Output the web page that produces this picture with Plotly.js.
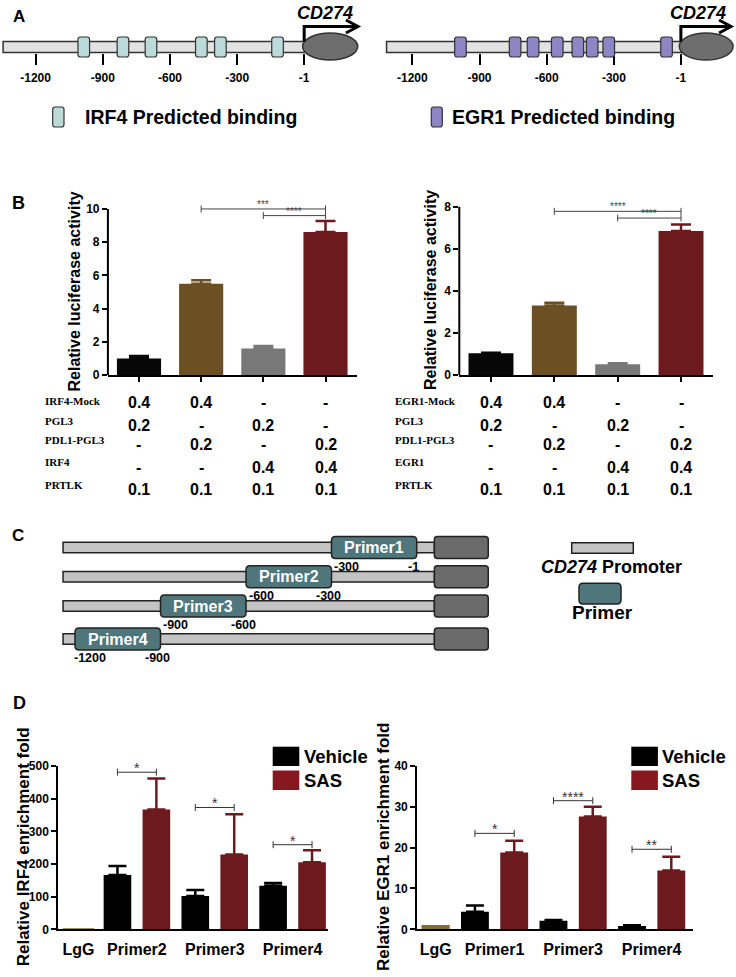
<!DOCTYPE html>
<html><head><meta charset="utf-8">
<script src="https://cdn.plot.ly/plotly-3.0.1.min.js"></script>
<style>html,body{margin:0;padding:0;background:#fff}#chart{width:736px;height:977px}</style>
</head><body><div id="chart"></div>
<script>
// ================= DATA =================
// Panel A: predicted binding sites (position relative to TSS)
const promoterTicks = [-1200, -900, -600, -300, -1];
const promoterTickText = ['-1200', '-900', '-600', '-300', '-1'];
const irf4Sites = [-985, -810, -685, -460, -375, -120];
const egr1Sites = [-985, -741, -661, -553, -461, -397, -323, -65];
const geneName = 'CD274';
const irf4LegendText = 'IRF4 Predicted binding';
const egr1LegendText = 'EGR1 Predicted binding';

// Panel B: luciferase activity
const irf4Luc = [1.0, 5.5, 1.6, 8.62];
const irf4LucErr = [0.15, 0.2, 0.15, 0.66];
const egr1Luc = [1.03, 3.3, 0.51, 6.84];
const egr1LucErr = [0.03, 0.14, 0.05, 0.32];
const irf4LucSigFrom = [1, 2];
const irf4LucSigTo = [3, 3];
const irf4LucSigY = [10.0, 9.6];
const irf4LucSigText = ['***', '****'];
const egr1LucSigFrom = [1, 2];
const egr1LucSigTo = [3, 3];
const egr1LucSigY = [7.78, 7.46];
const egr1LucSigText = ['****', '****'];
// table under panel B
const irf4RowLabels = ['IRF4-Mock', 'PGL3', 'PDL1-PGL3', 'IRF4', 'PRTLK'];
const egr1RowLabels = ['EGR1-Mock', 'PGL3', 'PDL1-PGL3', 'EGR1', 'PRTLK'];
const rowMock = ['0.4', '0.4', '-', '-'];
const rowPGL3 = ['0.2', '-', '0.2', '-'];
const rowPDL1 = ['-', '0.2', '-', '0.2'];
const rowTF = ['-', '-', '0.4', '0.4'];
const rowPRTLK = ['0.1', '0.1', '0.1', '0.1'];

// Panel C: primers
const primerNames = ['Primer1', 'Primer2', 'Primer3', 'Primer4'];
const primerStart = [-300, -600, -900, -1200];
const primerEnd = [-1, -300, -600, -900];
const primerStartText = ['-300', '-600', '-900', '-1200'];
const primerEndText = ['-1', '-300', '-600', '-900'];

// Panel D: ChIP enrichment
const seriesNames = ['Vehicle', 'SAS'];
const irf4ChipCats = ['LgG', 'Primer2', 'Primer3', 'Primer4'];
const irf4LgG = 3;
const irf4Vehicle = [166, 102, 133];
const irf4VehicleErr = [28, 18, 9];
const irf4SAS = [367, 229, 205];
const irf4SASErr = [95, 123, 37];
const irf4ChipSig = ['*', '*', '*'];
const irf4ChipSigY = [481, 373, 259];

const egr1ChipCats = ['LgG', 'Primer1', 'Primer3', 'Primer4'];
const egr1LgG = 1.05;
const egr1Vehicle = [4.3, 2.1, 0.8];
const egr1VehicleErr = [1.5, 0.2, 0.2];
const egr1SAS = [18.8, 27.6, 14.4];
const egr1SASErr = [2.9, 2.4, 3.4];
const egr1ChipSig = ['*', '****', '**'];
const egr1ChipSigY = [23.5, 31.5, 19.6];

// ================= LAYOUT HELPERS =================
const W = 736, H = 977;
const py = p => 1 - p / H;
const px = p => p / W;
const SANS = 'Arial, "Liberation Sans", sans-serif';
const SERIF = '"Times New Roman", "Liberation Serif", serif';
function F(size, color, family, weight) {
  return {family: family || SANS, size: size, color: color || '#000', weight: weight || 'bold'};
}
const shapes = [];
const annotations = [];
const traces = [];

function rrect(xref, x0, x1, topPx, botPx, rx, rPx, fill, lineColor, lw) {
  const yT = py(topPx), yB = py(botPx), r = rPx / H;
  const path = `M ${x0 + rx},${yT} L ${x1 - rx},${yT} Q ${x1},${yT} ${x1},${yT - r} L ${x1},${yB + r} Q ${x1},${yB} ${x1 - rx},${yB} L ${x0 + rx},${yB} Q ${x0},${yB} ${x0},${yB + r} L ${x0},${yT - r} Q ${x0},${yT} ${x0 + rx},${yT} Z`;
  shapes.push({type: 'path', xref: xref, yref: 'paper', path: path, fillcolor: fill, line: {color: lineColor, width: lw}, layer: 'above'});
}
function rect(xref, x0, x1, topPx, botPx, fill, lineColor, lw) {
  shapes.push({type: 'rect', xref: xref, yref: 'paper', x0: x0, x1: x1, y0: py(botPx), y1: py(topPx), fillcolor: fill, line: {color: lineColor, width: lw}, layer: 'above'});
}
function label(x, y, text, font, opts) {
  annotations.push(Object.assign({xref: 'paper', yref: 'paper', x: px(x), y: py(y), text: text, showarrow: false, font: font, xanchor: 'center', yanchor: 'middle'}, opts || {}));
}
function dummy(xa, ya) {
  traces.push({type: 'scatter', mode: 'markers', x: [null], y: [null], xaxis: xa, yaxis: ya, hoverinfo: 'skip', showlegend: false});
}

// ================= PANEL A =================
const bpPx = 0.224; // px per bp
function promoterPanel(xref, sites, siteColor, barStart, ellX0, ellX1, arrowTip, textX) {
  rect(xref, barStart, 60, 41.5, 52.5, '#e2e2e2', '#333', 1.5);
  const hw = 5.8 / bpPx, rx = 2.5 / bpPx;
  sites.forEach(s => rrect(xref, s - hw, s + hw, 37, 57, rx, 2.5, siteColor, '#333', 1.2));
  shapes.push({type: 'circle', xref: xref, yref: 'paper', x0: ellX0, x1: ellX1, y0: py(60), y1: py(33), fillcolor: '#6e6e6e', line: {color: '#333', width: 1.5}, layer: 'above'});
  shapes.push({type: 'path', xref: xref, yref: 'paper', path: `M -1,${py(41.5)} L -1,${py(26.5)} L ${arrowTip},${py(26.5)}`, line: {color: '#000', width: 3}, layer: 'above'});
  const back = 12 / bpPx;
  shapes.push({type: 'path', xref: xref, yref: 'paper', path: `M ${arrowTip - back},${py(20)} L ${arrowTip},${py(26.5)} L ${arrowTip - back},${py(33)}`, line: {color: '#000', width: 3}, layer: 'above'});
  annotations.push({xref: xref, yref: 'paper', x: textX, y: py(13), text: '<i>' + geneName + '</i>', showarrow: false, font: F(18), xanchor: 'center', yanchor: 'middle'});
}
promoterPanel('x', irf4Sites, '#bddadb', -1345, -8, 238, 239, 92);
promoterPanel('x2', egr1Sites, '#8c86c4', -1315, -8, 232, 223, 75);
// legends A
rrect('paper', px(52.7), px(64), 107, 127, px(2.5), 2.5, '#bddadb', '#333', 1.2);
label(82.5, 117.5, irf4LegendText, F(19.5), {xanchor: 'left'});
rrect('paper', px(431.3), px(442.3), 107, 127, px(2.5), 2.5, '#8c86c4', '#333', 1.2);
label(449.5, 117.5, egr1LegendText, F(19.5), {xanchor: 'left'});
label(18.5, 16, 'A', F(17));
dummy('x', 'y'); dummy('x2', 'y2');

// ================= PANEL B =================
const lucColors = ['#070707', '#6c5023', '#787878', '#6d1a1f'];
function lucPanel(xa, ya, vals, errs, sFrom, sTo, sY, sText) {
  vals.forEach((v, i) => {
    traces.push({type: 'bar', x: [i], y: [v], width: 0.71, xaxis: xa, yaxis: ya, hoverinfo: 'skip',
      marker: {color: lucColors[i], line: {width: 0}},
      error_y: {type: 'data', symmetric: false, array: [errs[i]], arrayminus: [0], color: lucColors[i], thickness: 2.5, width: 10}});
  });
  sFrom.forEach((f, k) => {
    traces.push({type: 'scatter', mode: 'lines+markers', x: [f, sTo[k]], y: [sY[k], sY[k]], xaxis: xa, yaxis: ya, hoverinfo: 'skip',
      line: {color: '#444', width: 1}, marker: {symbol: 'line-ns-open', size: 5, color: '#444', line: {color: '#444', width: 1}}});
    annotations.push({xref: xa, yref: ya, x: (f + sTo[k]) / 2, y: sY[k], text: sText[k], showarrow: false, font: F(10, '#444', SANS, 'normal'), xanchor: 'center', yanchor: 'bottom', yshift: -3});
  });
}
lucPanel('x3', 'y3', irf4Luc, irf4LucErr, irf4LucSigFrom, irf4LucSigTo, irf4LucSigY, irf4LucSigText);
lucPanel('x4', 'y4', egr1Luc, egr1LucErr, egr1LucSigFrom, egr1LucSigTo, egr1LucSigY, egr1LucSigText);
// y axis lines up to last tick
shapes.push({type: 'line', xref: 'paper', yref: 'y3', x0: px(107.9), x1: px(107.9), y0: 0, y1: 10, line: {color: '#000', width: 2}});
shapes.push({type: 'line', xref: 'paper', yref: 'y4', x0: px(459.3), x1: px(459.3), y0: 0, y1: 8, line: {color: '#000', width: 2}});
label(74, 291.5, 'Relative luciferase activity', F(16), {textangle: -90});
label(431, 290, 'Relative luciferase activity', F(16), {textangle: -90});
label(18, 203, 'B', F(18));
// tables
const tableRows = [rowMock, rowPGL3, rowPDL1, rowTF, rowPRTLK];
const labelYs = [401, 420.5, 440, 462.5, 485];
const valueYs = [402.5, 425.5, 444.5, 467, 490];
function table(xa, labels, labelX) {
  labels.forEach((t, r) => label(labelX, labelYs[r], t, F(11, '#000', SERIF), {xanchor: 'left'}));
  tableRows.forEach((row, r) => row.forEach((v, i) => {
    annotations.push({xref: xa, yref: 'paper', x: i, y: py(valueYs[r]), text: v, showarrow: false, font: F(16), xanchor: 'center', yanchor: 'middle'});
  }));
}
table('x3', irf4RowLabels, 42.5);
table('x4', egr1RowLabels, 392.5);

// ================= PANEL C =================
const cBp = 0.285;
const rowYs = [547.5, 576.7, 606, 639];
primerNames.forEach((n, i) => {
  const yc = rowYs[i];
  rect('x5', -1242, 61, yc - 5.2, yc + 5.2, '#c3c3c3', '#222', 1.5);
  rrect('x5', 61, 250, yc - 11, yc + 11, 3 / cBp, 3, '#6b6b6b', '#222', 1.5);
  rrect('x5', primerStart[i], primerEnd[i], yc - 11, yc + 11, 4 / cBp, 4, '#4e767b', '#222', 1.5);
  annotations.push({xref: 'x5', yref: 'paper', x: (primerStart[i] + primerEnd[i]) / 2, y: py(yc), text: n, showarrow: false, font: F(16, '#fff'), xanchor: 'center', yanchor: 'middle'});
  annotations.push({xref: 'x5', yref: 'paper', x: primerStart[i], y: py(yc + 19), xshift: 15, text: primerStartText[i], showarrow: false, font: F(12.5), xanchor: 'center', yanchor: 'middle'});
  annotations.push({xref: 'x5', yref: 'paper', x: primerEnd[i], y: py(yc + 19), xshift: -3, text: primerEndText[i], showarrow: false, font: F(12.5), xanchor: 'center', yanchor: 'middle'});
});
rect('paper', px(571.7), px(633.3), 542.7, 553.3, '#c3c3c3', '#222', 1.5);
label(611.7, 567, '<i>' + geneName + '</i> Promoter', F(18));
rrect('paper', px(579), px(621), 583.3, 604, px(4), 4, '#4e767b', '#222', 1.5);
label(602, 612, 'Primer', F(19));
label(17.5, 535, 'C', F(17));
dummy('x5', 'y5');

// ================= PANEL D =================
const vehColor = '#000000', sasColor = '#6d1a1f', lgColor = '#85692e';
function chipPanel(xa, ya, lg, lgW, veh, vehErr, sas, sasErr, sig, sigY) {
  traces.push({type: 'bar', x: [0], y: [lg], width: lgW, xaxis: xa, yaxis: ya, hoverinfo: 'skip', marker: {color: lgColor}});
  traces.push({type: 'bar', x: veh.map((v, i) => 1 + 2 * i), y: veh, width: 0.71, xaxis: xa, yaxis: ya, hoverinfo: 'skip', marker: {color: vehColor},
    error_y: {type: 'data', symmetric: false, array: vehErr, arrayminus: veh.map(() => 0), color: vehColor, thickness: 2.5, width: 9}});
  traces.push({type: 'bar', x: sas.map((v, i) => 2 + 2 * i), y: sas, width: 0.71, xaxis: xa, yaxis: ya, hoverinfo: 'skip', marker: {color: sasColor},
    error_y: {type: 'data', symmetric: false, array: sasErr, arrayminus: sas.map(() => 0), color: sasColor, thickness: 2.5, width: 9}});
  sig.forEach((s, k) => {
    const a = 1 + 2 * k, b = 2 + 2 * k;
    traces.push({type: 'scatter', mode: 'lines+markers', x: [a, b], y: [sigY[k], sigY[k]], xaxis: xa, yaxis: ya, hoverinfo: 'skip',
      line: {color: '#333', width: 1}, marker: {symbol: 'line-ns-open', size: 5, color: '#333', line: {color: '#333', width: 1}}});
    annotations.push({xref: xa, yref: ya, x: (a + b) / 2, y: sigY[k], text: s, showarrow: false, font: F(14, '#333', SANS, 'normal'), xanchor: 'center', yanchor: 'bottom', yshift: -6});
  });
}
chipPanel('x6', 'y6', irf4LgG, 0.81, irf4Vehicle, irf4VehicleErr, irf4SAS, irf4SASErr, irf4ChipSig, irf4ChipSigY);
chipPanel('x7', 'y7', egr1LgG, 0.72, egr1Vehicle, egr1VehicleErr, egr1SAS, egr1SASErr, egr1ChipSig, egr1ChipSigY);
label(23.3, 847, 'Relative IRF4 enrichment fold', F(17), {textangle: -90});
label(383, 847, 'Relative EGR1 enrichment fold', F(17), {textangle: -90});
label(19, 703, 'D', F(18));
// legends D
[[272.7, 301.7], [631.3, 659.7]].forEach(([sx, tx]) => {
  rect('paper', px(sx), px(sx + 26.6), 746.7, 766, vehColor, vehColor, 0);
  rect('paper', px(sx), px(sx + 26.6), 770.5, 790, '#87181f', '#87181f', 0);
  label(tx, 756, seriesNames[0], F(18.5), {xanchor: 'left'});
  label(tx, 780.5, seriesNames[1], F(18.5), {xanchor: 'left'});
});

// ================= AXES =================
const hidden = {visible: false, fixedrange: true};
function promoterAxis(domain, range) {
  return {domain: domain, range: range, anchor: 'free', position: py(52.5), showline: false, showgrid: false, zeroline: false,
    ticks: 'outside', ticklen: 11, tickwidth: 2, tickcolor: '#000', tickvals: promoterTicks, ticktext: promoterTickText,
    tickfont: F(12), ticklabelstandoff: 3, fixedrange: true};
}
function barX(domain, anchor, ticksOn, vals, text) {
  return {domain: domain, anchor: anchor, range: ticksOn.range, showline: true, linewidth: 2, linecolor: '#000', showgrid: false, zeroline: false,
    ticks: ticksOn.ticks, ticklen: 5, tickwidth: 2, tickcolor: '#000', tickvals: vals, ticktext: text,
    showticklabels: !!text, tickfont: F(16), ticklabelstandoff: ticksOn.standoff || 0, fixedrange: true};
}
function barY(domain, anchor, range, vals, showline) {
  return {domain: domain, anchor: anchor, range: range, showline: showline, linewidth: 2, linecolor: '#000', showgrid: false, zeroline: false,
    ticks: 'outside', ticklen: 5, tickwidth: 2, tickcolor: '#000', tickvals: vals, tickfont: F(12), fixedrange: true};
}

const layout = {
  width: W, height: H, margin: {l: 0, r: 0, t: 0, b: 0}, paper_bgcolor: '#fff', plot_bgcolor: 'rgba(0,0,0,0)',
  showlegend: false, barmode: 'overlay',
  xaxis: promoterAxis([0, 0.5], [-1358.9, 283.9]),
  yaxis: Object.assign({domain: [py(140), 1], range: [0, 1]}, hidden),
  xaxis2: promoterAxis([0.5, 1], [-1397.8, 245.1]),
  yaxis2: Object.assign({domain: [py(140), 1], range: [0, 1]}, hidden),
  xaxis3: barX([px(107.9), px(356.6)], 'y3', {range: [-0.5, 3.5], ticks: 'outside'}, [0, 1, 2, 3], null),
  yaxis3: barY([py(375), py(199)], 'x3', [0, 10.6], [0, 2, 4, 6, 8, 10], false),
  xaxis4: barX([px(459.3), px(712.7)], 'y4', {range: [-0.5, 3.5], ticks: 'outside'}, [0, 1, 2, 3], null),
  yaxis4: barY([py(375), py(198.3)], 'x4', [0, 8.4], [0, 2, 4, 6, 8], false),
  xaxis5: Object.assign({domain: [0, 1], range: [-1463.2, 1119.3], anchor: 'y5'}, hidden),
  yaxis5: Object.assign({domain: [py(670), py(520)], range: [0, 1], anchor: 'x5'}, hidden),
  xaxis6: barX([px(58.3), px(328)], 'y6', {range: [-0.52, 6.41], ticks: '', standoff: 4}, [0, 1.5, 3.5, 5.5], irf4ChipCats),
  yaxis6: barY([py(929.3), py(766)], 'x6', [0, 500], [0, 100, 200, 300, 400, 500], true),
  xaxis7: barX([px(417.2), px(692.9)], 'y7', {range: [-0.47, 6.55], ticks: '', standoff: 4}, [0, 1.5, 3.5, 5.5], egr1ChipCats),
  yaxis7: barY([py(929.3), py(766)], 'x7', [0, 40], [0, 10, 20, 30, 40], true),
  shapes: shapes,
  annotations: annotations
};
Plotly.newPlot('chart', traces, layout, {staticPlot: true, displayModeBar: false});
</script>
</body></html>
